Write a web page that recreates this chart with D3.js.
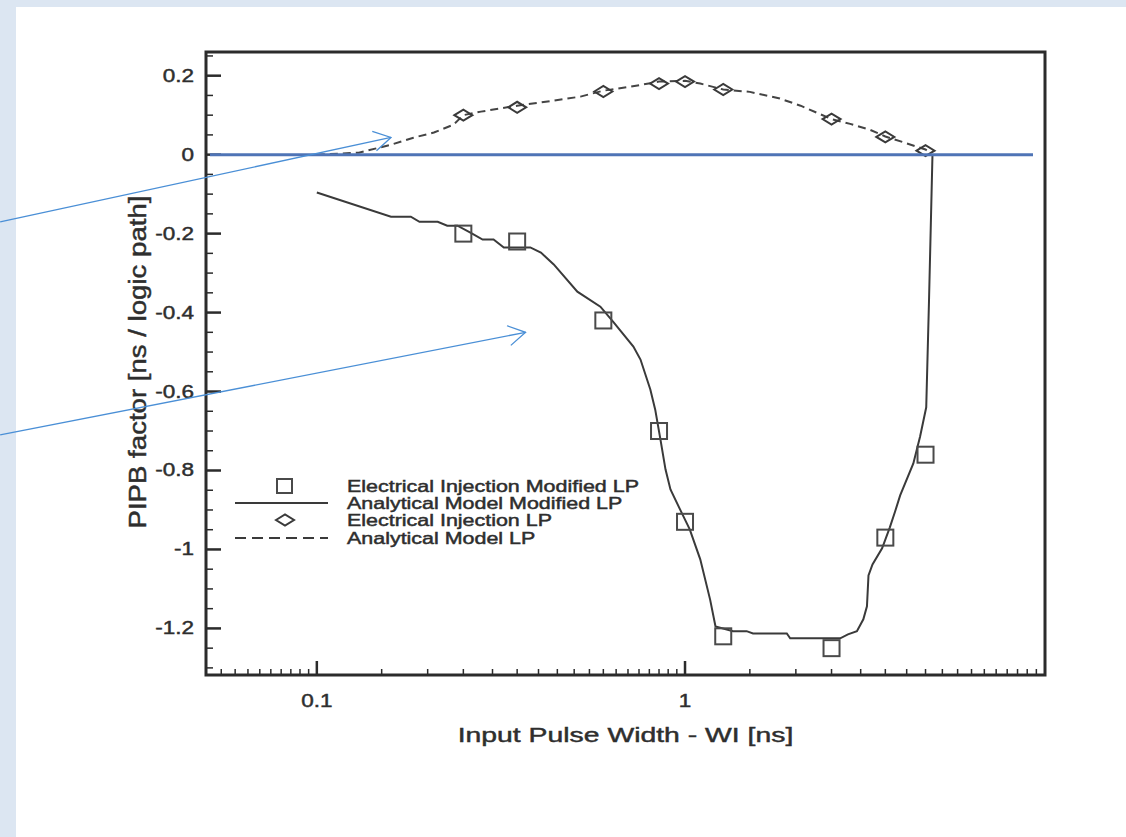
<!DOCTYPE html>
<html lang="en">
<head>
<meta charset="UTF-8">
<title>PIPB factor</title>
<script src="https://d3js.org/d3.v7.min.js"></script>
<style>
  html,body{margin:0;padding:0;background:#dce6f2;}
  svg{display:block;}
  text{font-family:"Liberation Sans", Arial, Helvetica, sans-serif;fill:#2e2e2e;stroke:#2e2e2e;stroke-width:0.45px;}
</style>
</head>
<body>
<div id="chart"></div>
<script>
// pulse widths [ns] of the injection runs
var injX = [0.25, 0.35, 0.6, 0.85, 1.0, 1.27, 2.5, 3.5, 4.5];
// Electrical Injection Modified LP (squares)
var injModY = [-0.2, -0.22, -0.42, -0.70, -0.93, -1.22, -1.25, -0.97, -0.76];
// Electrical Injection LP (diamonds)
var injLpY = [0.10, 0.12, 0.16, 0.18, 0.185, 0.165, 0.09, 0.045, 0.01];

// Analytical Model Modified LP (solid)
var modelModX = [0.1, 0.159, 0.18, 0.19, 0.213, 0.226, 0.241, 0.262, 0.282, 0.302, 0.322, 0.38, 0.406, 0.44, 0.51, 0.589, 0.64, 0.724, 0.757, 0.805, 0.83, 0.857, 0.885, 0.913, 0.97, 1.03, 1.10, 1.17, 1.21, 1.35, 1.47, 1.53, 1.89, 1.93, 2.64, 2.77, 2.93, 3.05, 3.12, 3.15, 3.23, 3.43, 3.6, 3.72, 3.84, 4.17, 4.35, 4.52, 4.6, 4.7];
var modelModY = [-0.096, -0.157, -0.157, -0.17, -0.17, -0.18, -0.18, -0.198, -0.215, -0.215, -0.235, -0.235, -0.248, -0.278, -0.347, -0.385, -0.425, -0.486, -0.519, -0.595, -0.646, -0.72, -0.797, -0.848, -0.899, -0.949, -1.025, -1.127, -1.195, -1.207, -1.207, -1.213, -1.213, -1.225, -1.225, -1.215, -1.207, -1.177, -1.144, -1.066, -1.038, -0.997, -0.944, -0.904, -0.863, -0.782, -0.714, -0.64, -0.367, 0.0];

// Analytical Model LP (dashed)
var modelLpX = [0.1, 0.13, 0.159, 0.183, 0.208, 0.235, 0.25, 0.279, 0.35, 0.405, 0.52, 0.6, 0.711, 0.85, 1.0, 1.10, 1.27, 1.5, 1.81, 2.06, 2.5, 2.81, 3.18, 3.5, 3.96, 4.5, 4.63];
var modelLpY = [0.0, 0.005, 0.025, 0.043, 0.056, 0.076, 0.10, 0.109, 0.124, 0.132, 0.147, 0.162, 0.172, 0.185, 0.187, 0.18, 0.165, 0.159, 0.142, 0.124, 0.09, 0.078, 0.063, 0.046, 0.030, 0.013, 0.005];

var xTicks = [0.1, 1];
var xTickLabels = ["0.1", "1"];
var yTicks = [0.2, 0, -0.2, -0.4, -0.6, -0.8, -1, -1.2];
var yTickLabels = ["0.2", "0", "-0.2", "-0.4", "-0.6", "-0.8", "-1", "-1.2"];

var legendLabels = ["Electrical Injection Modified LP", "Analytical Model Modified LP", "Electrical Injection LP", "Analytical Model LP"];

// slide annotation arrows (data units)
var arrowFromX = [0.0138, 0.0138], arrowFromY = [-0.17, -0.71];
var arrowToX = [0.159, 0.369], arrowToY = [0.0435, -0.45];

var width = 1126, height = 837;

var svg = d3.select("#chart").append("svg")
    .attr("width", width)
    .attr("height", height);

svg.append("rect")
    .attr("x", 16).attr("y", 7)
    .attr("width", width - 16).attr("height", height - 7)
    .attr("fill", "#ffffff");

var x = d3.scaleLog().domain([0.05, 9.5]).range([206, 1045]);
var y = d3.scaleLinear().domain([-1.318, 0.26]).range([675, 52]);

var plot = svg.append("g");

// minor ticks, x : half steps of every decade
var xMinor = [];
[0.01, 0.1, 1].forEach(function(b){
    d3.range(2, 20).forEach(function(k){
        var v = +(k * b / 2).toFixed(4);
        if (v > 0.05 && v < 9.5 && xTicks.indexOf(v) < 0) xMinor.push(v);
    });
});
var yMinor = d3.range(-1.3, 0.26, 0.05).map(function(v){ return +v.toFixed(2); })
    .filter(function(v){ return Math.abs(Math.round(v * 5) - v * 5) > 1e-6; });

var tickColor = "#2b2b2b";
plot.selectAll(".xminor").data(xMinor).enter().append("line")
    .attr("x1", function(d){ return x(d); }).attr("x2", function(d){ return x(d); })
    .attr("y1", y.range()[0]).attr("y2", y.range()[0] - 6)
    .attr("stroke", tickColor).attr("stroke-width", 1.5);
plot.selectAll(".xmajor").data(xTicks).enter().append("line")
    .attr("x1", function(d){ return x(d); }).attr("x2", function(d){ return x(d); })
    .attr("y1", y.range()[0]).attr("y2", y.range()[0] - 14)
    .attr("stroke", tickColor).attr("stroke-width", 2.5);
plot.selectAll(".yminor").data(yMinor).enter().append("line")
    .attr("x1", x.range()[0]).attr("x2", x.range()[0] + 7)
    .attr("y1", function(d){ return y(d); }).attr("y2", function(d){ return y(d); })
    .attr("stroke", tickColor).attr("stroke-width", 1.5);
plot.selectAll(".ymajor").data(yTicks).enter().append("line")
    .attr("x1", x.range()[0]).attr("x2", x.range()[0] + 15)
    .attr("y1", function(d){ return y(d); }).attr("y2", function(d){ return y(d); })
    .attr("stroke", tickColor).attr("stroke-width", 2.5);

// frame
plot.append("rect")
    .attr("x", x.range()[0]).attr("y", y.range()[1])
    .attr("width", x.range()[1] - x.range()[0])
    .attr("height", y.range()[0] - y.range()[1])
    .attr("fill", "none").attr("stroke", "#2b2b2b").attr("stroke-width", 3);

// tick labels
var tickLab = svg.append("g").attr("class", "ticklab").style("font-size", "18px");
tickLab.selectAll(".yl").data(yTicks).enter().append("text")
    .attr("x", 194).attr("y", function(d){ return y(d) + 6; })
    .attr("text-anchor", "end")
    .text(function(d, i){ return yTickLabels[i]; });
tickLab.selectAll(".xl").data(xTicks).enter().append("text")
    .attr("x", function(d){ return x(d); }).attr("y", 707)
    .attr("text-anchor", "middle")
    .text(function(d, i){ return xTickLabels[i]; });

// axis titles
svg.append("text").attr("class", "xtitle")
    .attr("x", (x.range()[0] + x.range()[1]) / 2).attr("y", 742)
    .attr("text-anchor", "middle").style("font-size", "21px")
    .text("Input Pulse Width - WI [ns]");
svg.append("text").attr("class", "ytitle")
    .attr("transform", "translate(146,362) rotate(-90)")
    .attr("text-anchor", "middle").style("font-size", "23px")
    .text("PIPB factor [ns / logic path]");

// zero line drawn over the chart
svg.append("line")
    .attr("x1", x.range()[0] + 4).attr("x2", x.range()[1] - 12)
    .attr("y1", y(0)).attr("y2", y(0))
    .attr("stroke", "#4f74b6").attr("stroke-width", 3);

var lineGen = d3.line()
    .x(function(d){ return x(d[0]); })
    .y(function(d){ return y(d[1]); });

plot.append("path")
    .datum(modelModX.map(function(v, i){ return [v, modelModY[i]]; }))
    .attr("d", lineGen)
    .attr("fill", "none").attr("stroke", "#3a3a3a").attr("stroke-width", 2);

plot.append("path")
    .datum(modelLpX.map(function(v, i){ return [v, modelLpY[i]]; }))
    .attr("d", lineGen)
    .attr("fill", "none").attr("stroke", "#444").attr("stroke-width", 2)
    .attr("stroke-dasharray", "8,5");

// markers
var sq = 16;
plot.selectAll(".sq").data(injX).enter().append("rect")
    .attr("x", function(d){ return x(d) - sq / 2; })
    .attr("y", function(d, i){ return y(injModY[i]) - sq / 2; })
    .attr("width", sq).attr("height", sq)
    .attr("fill", "none").attr("stroke", "#4a4a4a").attr("stroke-width", 2);

function diamond(cx, cy){
    return "M" + (cx - 9) + "," + cy + "L" + cx + "," + (cy - 5.5) +
        "L" + (cx + 9) + "," + cy + "L" + cx + "," + (cy + 5.5) + "Z";
}
plot.selectAll(".dm").data(injX).enter().append("path")
    .attr("d", function(d, i){ return diamond(x(d), y(injLpY[i])); })
    .attr("fill", "none").attr("stroke", "#3a3a3a").attr("stroke-width", 2);

// legend
var leg = svg.append("g").attr("class", "legend");
var rowY = [486, 503, 520, 538];
leg.append("rect").attr("x", 277).attr("y", rowY[0] - 7).attr("width", 15).attr("height", 14)
    .attr("fill", "none").attr("stroke", "#4a4a4a").attr("stroke-width", 2);
leg.append("line").attr("x1", 235).attr("x2", 328).attr("y1", rowY[1]).attr("y2", rowY[1])
    .attr("stroke", "#3a3a3a").attr("stroke-width", 2);
leg.append("path").attr("d", diamond(285, rowY[2]))
    .attr("fill", "none").attr("stroke", "#3a3a3a").attr("stroke-width", 2);
leg.append("line").attr("x1", 235).attr("x2", 328).attr("y1", rowY[3]).attr("y2", rowY[3])
    .attr("stroke", "#3a3a3a").attr("stroke-width", 2).attr("stroke-dasharray", "11,6");
var legText = leg.append("g").attr("class", "legtext").style("font-size", "16px");
legText.selectAll("text").data(legendLabels).enter().append("text")
    .attr("x", 347).attr("y", function(d, i){ return rowY[i] + 6; })
    .text(function(d){ return d; });

// arrows
svg.append("defs").append("marker")
    .attr("id", "head")
    .attr("viewBox", "0 0 20 24")
    .attr("refX", 19).attr("refY", 12)
    .attr("markerWidth", 20).attr("markerHeight", 24)
    .attr("markerUnits", "userSpaceOnUse")
    .attr("orient", "auto")
    .append("path")
    .attr("d", "M2,2 L19,12 L2,22")
    .attr("fill", "none").attr("stroke", "#4a8fd6").attr("stroke-width", 1.3);

svg.selectAll(".arrow").data(arrowFromX).enter().append("line")
    .attr("x1", function(d){ return x(d); })
    .attr("y1", function(d, i){ return y(arrowFromY[i]); })
    .attr("x2", function(d, i){ return x(arrowToX[i]); })
    .attr("y2", function(d, i){ return y(arrowToY[i]); })
    .attr("stroke", "#4a8fd6").attr("stroke-width", 1.3)
    .attr("marker-end", "url(#head)");

// the figure is stretched sideways, widen glyphs to match
function stretch(sel, k){
    sel.each(function(){
        var w = this.getComputedTextLength();
        d3.select(this).attr("textLength", w * k).attr("lengthAdjust", "spacingAndGlyphs");
    });
}
stretch(svg.selectAll(".ticklab text"), 1.25);
stretch(svg.selectAll(".legtext text"), 1.34);
stretch(svg.selectAll(".xtitle"), 1.35);
stretch(svg.selectAll(".ytitle"), 1.2);
</script>
</body>
</html>
